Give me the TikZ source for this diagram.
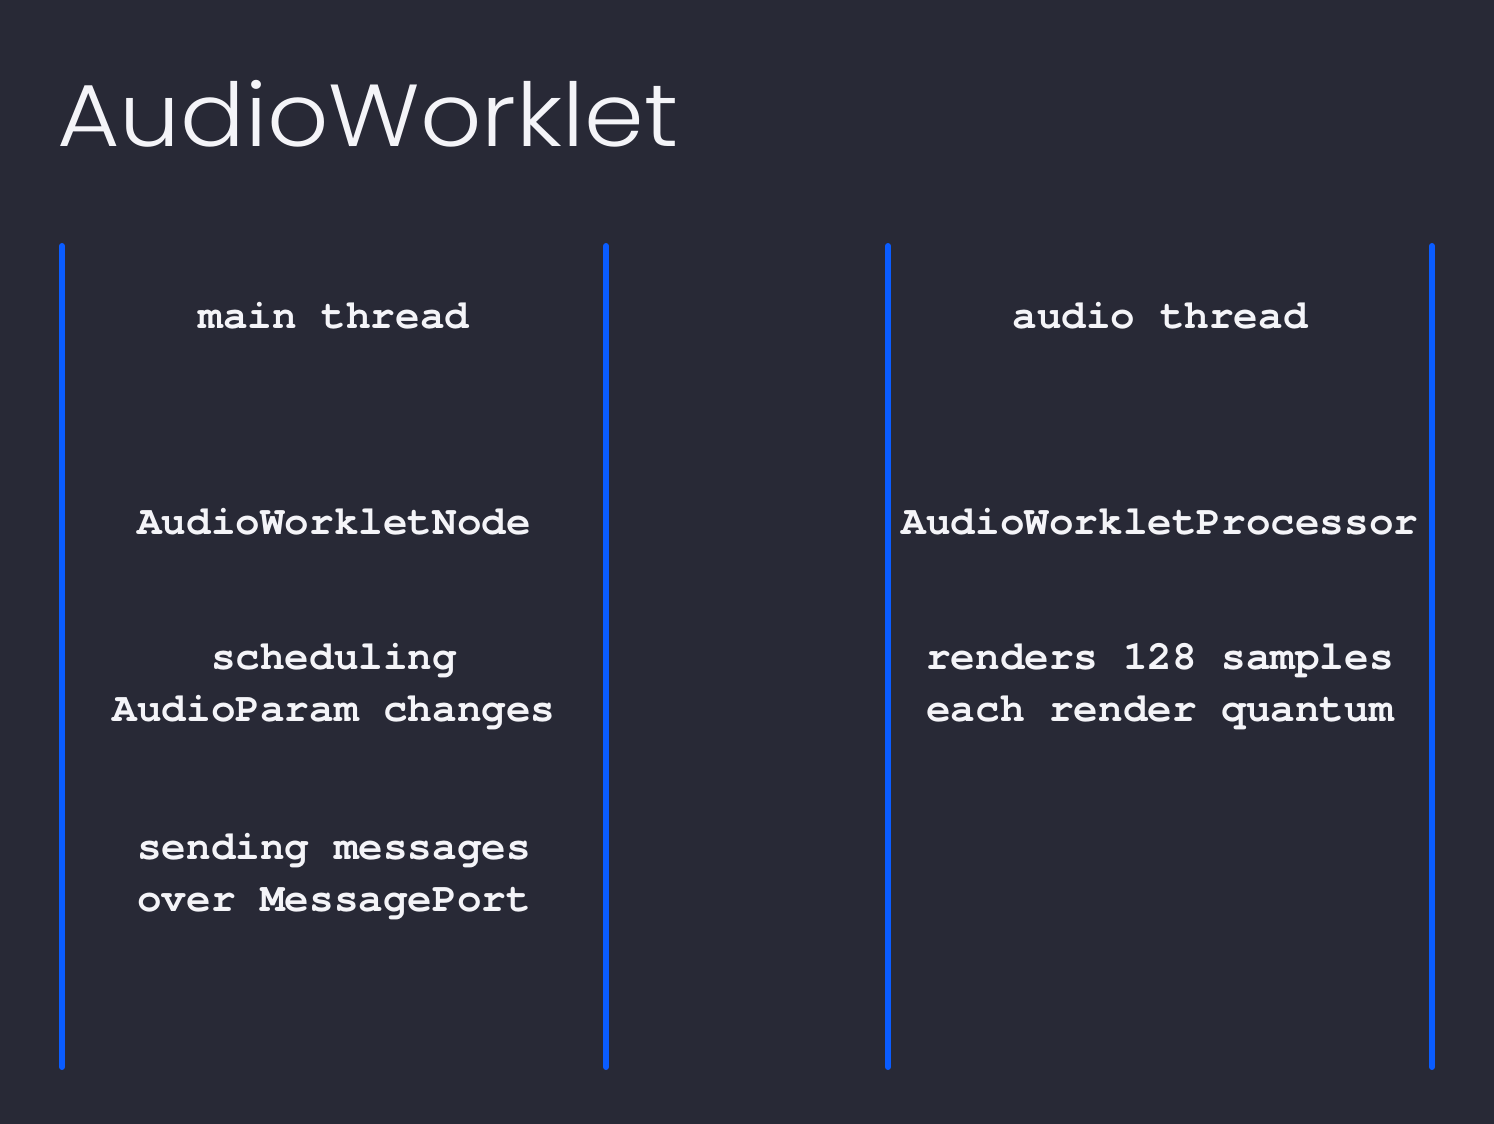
\documentclass[tikz,border=0pt]{standalone}
\usepackage{fontspec}
\setmainfont{Poppins}
\newfontfamily\titlefont[UprightFont=* Light,FakeStretch=1.09]{Poppins}
\newfontfamily\codefont[UprightFont=*-Regular,BoldFont=*-Bold]{TeX Gyre Cursor}
\definecolor{bgcol}{HTML}{282936}
\definecolor{barcol}{HTML}{0A5CFF}
\definecolor{txtcol}{HTML}{F4F4F8}
\begin{document}
\begin{tikzpicture}[x=1pt,y=-1pt,
  bar/.style={draw=barcol,line width=6pt,line cap=round},
  codetext/.style={text=txtcol,align=center,inner sep=0pt,
    font=\codefont\bfseries\fontsize{41}{52}\selectfont},
  titletext/.style={text=txtcol,anchor=base west,inner sep=0pt,
    font=\titlefont\fontsize{88}{100}\selectfont}]
\fill[bgcol] (0,0) rectangle (1494,1124);
\useasboundingbox (0,0) rectangle (1494,1124);
\node[titletext] (title) at (57,146) {AudioWorklet};
\coordinate (b1t) at (62,246); \coordinate (b1b) at (62,1067);
\coordinate (b2t) at (606,246); \coordinate (b2b) at (606,1067);
\coordinate (b3t) at (888,246); \coordinate (b3b) at (888,1067);
\coordinate (b4t) at (1432,246); \coordinate (b4b) at (1432,1067);
\draw[bar] (b1t) -- (b1b);
\draw[bar] (b2t) -- (b2b);
\draw[bar] (b3t) -- (b3b);
\draw[bar] (b4t) -- (b4b);
\node[codetext] (mt) at (334,316) {main thread};
\node[codetext] (awn) at (334,522) {AudioWorkletNode};
\node[codetext] (sched) at (334,687) {scheduling\\AudioParam changes};
\node[codetext] (send) at (334,877) {sending messages\\over MessagePort};
\node[codetext] (at) at (1160,316) {audio thread};
\node[codetext] (awp) at (1160,522) {AudioWorkletProcessor};
\node[codetext] (rend) at (1160,687) {renders 128 samples\\each render quantum};
\end{tikzpicture}
\end{document}
